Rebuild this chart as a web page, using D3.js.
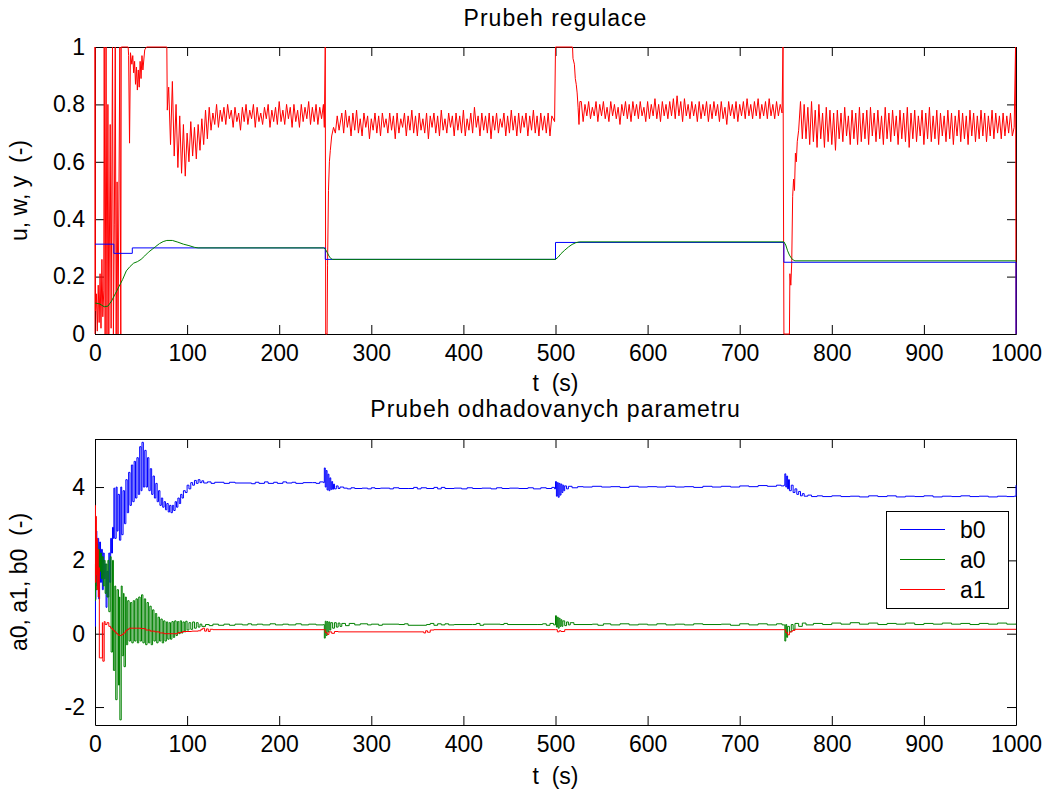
<!DOCTYPE html>
<html>
<head>
<meta charset="utf-8">
<script src="https://cdn.jsdelivr.net/npm/d3@7"></script>
<style>
body { margin: 0; background: #fff; }
text { font-family: "Liberation Sans", Arial, Helvetica, sans-serif; }
</style>
</head>
<body>
<div class="chart"></div>
<script>
// ---- data ----
var xTicks = [0, 100, 200, 300, 400, 500, 600, 700, 800, 900, 1000];
var topYTicks = [0, 0.2, 0.4, 0.6, 0.8, 1];
var botYTicks = [-2, 0, 2, 4];

// u (control signal, saturated to 0..1): [t, value] pairs for transients
var uStart = [
  [0, 0], [0, 1], [0.5, 0.08], [1.5, 0.14], [2.5, 0.01], [3.5, 0.17], [4.5, 0.04], [5.5, 0.21],
  [6.5, 0.02], [7.5, 0.26], [8.5, 0.06], [9.5, 0.15], [10, 1], [11, 0], [12, 1], [13, 0],
  [14, 0.8], [15, 0], [16.5, 0.73], [17.5, 0.02], [19, 1], [20, 0], [21, 0.38], [22, 1],
  [23, 0], [24, 0.53], [25, 0], [27, 1], [28, 0], [28.5, 1],
  [36, 1], [36.5, 0.97], [37.5, 0.665], [38.5, 0.98], [40, 0.94], [41, 0.97], [42, 0.91],
  [43, 0.95], [44, 0.87], [45, 0.93], [46, 0.85], [47, 0.92], [48, 0.86], [49, 0.95],
  [50, 0.89], [51, 0.97], [52, 0.92], [54, 0.99], [56, 1],
  [78, 1], [78.5, 0.78], [79.5, 0.84]
];
// steady stretches of u, one value every 2 s
var uStep = 2;
var uRun1Start = 80;
var uRun1 = [
  0.86, 0.66, 0.88, 0.62, 0.80, 0.58, 0.76, 0.56, 0.73, 0.55,
  0.70, 0.60, 0.74, 0.62, 0.72, 0.61, 0.73, 0.64, 0.75, 0.66,
  0.78, 0.68, 0.79, 0.71, 0.77, 0.73, 0.80, 0.72, 0.78, 0.74,
  0.79, 0.73, 0.80, 0.75, 0.78, 0.72, 0.79, 0.74, 0.77, 0.71,
  0.79, 0.74, 0.80, 0.73, 0.78, 0.75, 0.80, 0.72, 0.79, 0.74,
  0.77, 0.73, 0.79, 0.75, 0.80, 0.72, 0.78, 0.74, 0.79, 0.73,
  0.81, 0.74, 0.78, 0.73, 0.80, 0.75, 0.79, 0.72, 0.80, 0.74,
  0.78, 0.72, 0.80, 0.74, 0.79, 0.75, 0.81, 0.73, 0.79, 0.74,
  0.80, 0.73, 0.79, 0.75, 0.80
];
var uJump1 = [
  [249, 0.72], [250, 1], [250.5, 0], [252, 0], [252.5, 0.24], [253.5, 0.5], [254.5, 0.6],
  [255.5, 0.64], [257, 0.69], [259, 0.72], [261, 0.70], [263, 0.76], [265, 0.71]
];
var uRun2Start = 268;
var uRun2 = [
  0.77, 0.70, 0.78, 0.72, 0.76, 0.69, 0.77, 0.71, 0.78, 0.70,
  0.75, 0.69, 0.77, 0.72, 0.76, 0.68, 0.75, 0.71, 0.77, 0.70,
  0.76, 0.69, 0.77, 0.72, 0.75, 0.70, 0.77, 0.71, 0.76, 0.68,
  0.77, 0.70, 0.75, 0.72, 0.77, 0.69, 0.76, 0.71, 0.78, 0.70,
  0.76, 0.69, 0.77, 0.71, 0.75, 0.70, 0.77, 0.68, 0.76, 0.72,
  0.77, 0.70, 0.76, 0.69, 0.78, 0.71, 0.75, 0.70, 0.77, 0.72,
  0.76, 0.69, 0.77, 0.71, 0.76, 0.70, 0.78, 0.69, 0.75, 0.71,
  0.77, 0.70, 0.79, 0.72, 0.76, 0.69, 0.77, 0.71, 0.76, 0.70,
  0.77, 0.68, 0.76, 0.71, 0.77, 0.70, 0.75, 0.72, 0.77, 0.69,
  0.76, 0.70, 0.78, 0.71, 0.76, 0.69, 0.77, 0.70, 0.76, 0.72,
  0.77, 0.69, 0.76, 0.71, 0.78, 0.70, 0.76, 0.69, 0.77, 0.71,
  0.76, 0.70, 0.77, 0.69, 0.76
];
var uJump2 = [
  [499, 0.74], [500, 1], [518.5, 1], [519, 0.96], [520.5, 0.94], [521.5, 0.89], [522.5, 0.87],
  [523.5, 0.84], [524.5, 0.79], [525.5, 0.73], [526.5, 0.81]
];
var uRun3Start = 528;
var uRun3 = [
  0.81, 0.74, 0.80, 0.76, 0.81, 0.75, 0.79, 0.76, 0.81, 0.74,
  0.80, 0.76, 0.81, 0.75, 0.79, 0.74, 0.81, 0.76, 0.80, 0.75,
  0.79, 0.73, 0.80, 0.76, 0.81, 0.75, 0.80, 0.74, 0.81, 0.76,
  0.80, 0.75, 0.81, 0.76, 0.79, 0.74, 0.81, 0.75, 0.80, 0.76,
  0.82, 0.75, 0.80, 0.74, 0.81, 0.76, 0.80, 0.75, 0.81, 0.76,
  0.82, 0.75, 0.83, 0.76, 0.81, 0.74, 0.82, 0.76, 0.80, 0.75,
  0.81, 0.76, 0.80, 0.74, 0.81, 0.75, 0.80, 0.76, 0.81, 0.74,
  0.80, 0.75, 0.81, 0.76, 0.80, 0.74, 0.81, 0.75, 0.79, 0.73,
  0.81, 0.76, 0.80, 0.75, 0.81, 0.74, 0.80, 0.76, 0.81, 0.75,
  0.82, 0.76, 0.80, 0.75, 0.81, 0.76, 0.82, 0.75, 0.80, 0.76,
  0.81, 0.75, 0.82, 0.76, 0.80, 0.75, 0.81, 0.76, 0.80
];
var uJump3 = [
  [746, 0.77], [747, 1], [748, 0], [754, 0], [754.5, 0.21], [755.5, 0.17], [756.5, 0.25],
  [757.5, 0.48], [758.5, 0.54], [759.5, 0.5], [760.5, 0.63], [761.5, 0.6], [762.5, 0.67],
  [764, 0.71], [766, 0.81], [768, 0.68]
];
var uRun4Start = 770;
var uRun4 = [
  0.80, 0.68, 0.79, 0.66, 0.81, 0.67, 0.78, 0.65, 0.80, 0.68,
  0.77, 0.65, 0.79, 0.67, 0.78, 0.66, 0.77, 0.64, 0.78, 0.68,
  0.77, 0.67, 0.79, 0.69, 0.76, 0.66, 0.78, 0.68, 0.77, 0.66,
  0.79, 0.67, 0.77, 0.68, 0.78, 0.66, 0.79, 0.69, 0.77, 0.67,
  0.78, 0.68, 0.76, 0.66, 0.79, 0.68, 0.77, 0.67, 0.78, 0.69,
  0.76, 0.66, 0.78, 0.68, 0.77, 0.67, 0.79, 0.65, 0.77, 0.68,
  0.78, 0.67, 0.76, 0.69, 0.78, 0.66, 0.77, 0.68, 0.79, 0.67,
  0.76, 0.68, 0.78, 0.66, 0.77, 0.69, 0.76, 0.67, 0.78, 0.68,
  0.77, 0.66, 0.76, 0.69, 0.78, 0.67, 0.77, 0.68, 0.76, 0.66,
  0.78, 0.69, 0.77, 0.67, 0.76, 0.68, 0.78, 0.69, 0.77, 0.67,
  0.76, 0.69, 0.78, 0.68, 0.77, 0.70, 0.76, 0.68, 0.77, 0.69,
  0.76, 0.70, 0.77, 0.69, 0.72
];
var uEnd = [[999.5, 1], [1000, 0]];

// w (setpoint) and y (output)
var wData = [[0, 0.313], [20.5, 0.281], [40.5, 0.30], [250, 0.26], [500, 0.319], [748, 0.25], [1000, 0]];
var yData = [
  [0, 0.108], [5, 0.105], [10, 0.095], [14, 0.097], [18, 0.115], [22, 0.14], [26, 0.165],
  [30, 0.19], [34, 0.22], [38, 0.235], [42, 0.247], [46, 0.252], [50, 0.26], [54, 0.272],
  [58, 0.285], [62, 0.295], [66, 0.305], [70, 0.315], [74, 0.322], [78, 0.326], [84, 0.326],
  [90, 0.32], [96, 0.313], [102, 0.308], [108, 0.302], [112, 0.300], [248, 0.300],
  [250, 0.296], [252, 0.285], [254, 0.272], [256, 0.263], [258, 0.26], [500, 0.26],
  [503, 0.268], [506, 0.28], [510, 0.292], [514, 0.303], [518, 0.312], [522, 0.318],
  [526, 0.321], [748, 0.321], [750, 0.31], [752, 0.29], [754, 0.275], [756, 0.265],
  [758, 0.258], [760, 0.255], [1000, 0.255]
];

// estimated parameters
var b0Data = [
  [0, 0.2], [0.5, 0.93], [1, 2.8], [2, 1.3], [3, 2.6], [4, 0.95], [5, 2.5], [6, 1.4], [7, 2.3],
  [8, 1.2], [9, 2.2], [10, 1.5], [11, 1.9], [12, 0.72], [13, 1.7], [14, 1.0], [15, 2.2],
  [16, 1.4], [17, 2.6], [18, 2.2], [19, 2.9], [20, 2.6], [20.5, 3.97], [21.5, 2.6], [23, 4.0],
  [24, 2.8], [25, 3.8], [26.5, 2.55], [28, 4.0], [29, 2.7], [30.5, 3.9], [32, 3.0], [33.5, 4.2],
  [35, 3.3], [36.5, 4.4], [38, 3.5], [39.5, 4.6], [41, 3.6], [42.5, 4.7], [44, 3.7], [45.5, 4.8],
  [47, 3.8], [48.5, 5.1], [50, 3.9], [51, 5.22], [52.5, 4.0], [54, 5.0], [55.5, 4.0], [57, 4.8],
  [58.5, 3.9], [60, 4.5], [61.5, 3.8], [63, 4.3], [64.5, 3.7], [66, 4.1], [67.5, 3.6], [69, 3.9],
  [70.5, 3.5], [72, 3.7], [73.5, 3.45], [75, 3.6], [76.5, 3.38], [78, 3.55], [79.5, 3.32],
  [81, 3.5], [82.5, 3.3], [84, 3.5], [85.5, 3.36], [87, 3.6], [88.5, 3.45], [90, 3.7],
  [91.5, 3.55], [93, 3.8], [94.5, 3.7], [96, 3.9], [98, 3.85], [100, 4.05], [102, 3.95],
  [104, 4.12], [106, 4.05], [108, 4.18], [110, 4.1], [112, 4.2], [114, 4.12], [116, 4.17],
  [118, 4.11], [122, 4.14], [126, 4.1], [130, 4.13], [140, 4.1], [146, 4.13], [152, 4.11],
  [170, 4.09], [174, 4.13], [178, 4.1], [184, 4.14], [188, 4.1], [194, 4.13], [198, 4.1],
  [204, 4.14], [208, 4.11], [214, 4.13], [218, 4.10], [226, 4.12], [236, 4.12], [240, 4.10],
  [244, 4.14], [248, 4.12],
  [249, 4.52], [250, 4.0], [251, 4.45], [252, 3.92], [253, 4.35], [254, 3.9], [255, 4.25],
  [256, 3.93], [257, 4.15], [258, 3.94], [259, 4.08], [260, 3.95], [262, 4.03], [264, 3.96],
  [266, 4.0], [270, 3.97], [274, 3.95], [278, 3.98], [282, 3.96], [290, 3.97], [296, 3.95],
  [300, 3.98], [304, 3.96], [310, 3.97], [320, 3.95], [324, 3.98], [330, 3.96], [340, 3.96],
  [346, 3.99], [350, 3.95], [354, 3.98], [360, 3.96], [368, 3.99], [372, 3.95], [376, 3.99],
  [380, 3.96], [390, 3.97], [398, 3.95], [404, 3.98], [410, 3.96], [420, 3.97], [430, 3.95],
  [436, 3.98], [442, 3.96], [450, 3.97], [460, 3.96], [470, 3.98], [476, 3.95], [484, 3.98],
  [490, 3.96], [496, 3.99],
  [499, 3.95], [500, 4.15], [501, 3.75], [502, 4.12], [503, 3.72], [504, 4.1], [505, 3.78],
  [506, 4.08], [507, 3.85], [508, 4.05], [509, 3.9], [510, 4.03], [512, 3.95], [514, 4.02],
  [518, 3.98], [524, 4.01], [530, 4.0], [540, 4.02], [550, 4.0], [560, 4.01], [570, 3.99],
  [580, 4.02], [590, 4.0], [600, 4.01], [610, 4.0], [620, 4.02], [630, 4.0], [640, 4.01],
  [650, 3.99], [660, 4.02], [670, 4.0], [680, 4.02], [690, 4.0], [700, 4.03], [710, 4.01],
  [720, 4.04], [730, 4.02], [740, 4.05], [745, 4.03],
  [748, 4.05], [749, 4.36], [750, 4.0], [751, 4.3], [752, 3.95], [753, 4.2], [754, 3.9],
  [756, 4.05], [758, 3.85], [760, 3.95], [762, 3.8], [764, 3.88], [766, 3.76], [768, 3.82],
  [770, 3.75], [774, 3.78], [778, 3.74], [784, 3.76], [790, 3.74], [800, 3.76], [810, 3.74],
  [820, 3.75], [830, 3.73], [840, 3.76], [850, 3.74], [860, 3.76], [870, 3.73], [880, 3.75],
  [890, 3.74], [900, 3.76], [910, 3.73], [920, 3.75], [930, 3.74], [940, 3.76], [950, 3.74],
  [960, 3.75], [970, 3.73], [980, 3.75], [990, 3.74], [998, 3.75], [1000, 4.05]
];
var a0Data = [
  [0, 0.9], [0.5, 1.9], [1, 1.2], [2, 2.45], [3, 1.6], [4, 2.3], [5, 1.7], [6, 2.2], [7, 1.5],
  [8, 2.1], [9, 1.3], [10, 2.0], [11, 1.1], [12, 1.9], [13, 1.0], [14, 2.0], [15, 0.6],
  [16.5, 2.1], [17.5, -0.5], [19, 2.0], [20, -1.0], [21.5, 1.3], [22.5, -1.8], [24, 1.2],
  [25.5, -1.4], [26.5, 1.0], [27, -2.35], [28.5, 1.3], [29.5, -0.6], [31, 1.1], [31.5, -0.9],
  [33, 1.0], [34, -0.3], [35.5, 0.9], [37, -0.2], [38.5, 0.85], [40, -0.25], [41.5, 0.9],
  [43, -0.2], [44.5, 0.95], [46, -0.25], [47.5, 1.0], [49, -0.2], [50.5, 1.06], [52, -0.25],
  [53.5, 0.95], [55, -0.3], [56.5, 0.85], [58, -0.25], [59.5, 0.75], [61, -0.3], [62.5, 0.65],
  [64, -0.2], [65.5, 0.55], [67, -0.25], [68.5, 0.45], [70, -0.2], [71.5, 0.4], [73, -0.25],
  [74.5, 0.35], [76, -0.2], [77.5, 0.32], [79, -0.15], [80.5, 0.3], [82, -0.15], [83.5, 0.33],
  [85, -0.1], [86.5, 0.35], [88, -0.05], [89.5, 0.33], [91, 0.0], [92.5, 0.35], [94, 0.02],
  [95.5, 0.32], [97, 0.05], [98.5, 0.34], [100, 0.1], [102, 0.3], [104, 0.12], [106, 0.32],
  [108, 0.15], [110, 0.3], [112, 0.18], [114, 0.26], [116, 0.2], [120, 0.25], [124, 0.22],
  [128, 0.26], [134, 0.23], [140, 0.26], [146, 0.23], [152, 0.26], [160, 0.24], [166, 0.27],
  [170, 0.24], [176, 0.26], [182, 0.24], [190, 0.27], [196, 0.24], [204, 0.26], [210, 0.24],
  [218, 0.27], [224, 0.24], [232, 0.26], [240, 0.24], [248, 0.25],
  [249, -0.12], [250, 0.34], [251, -0.05], [252, 0.33], [253, 0.05], [254, 0.32], [255, 0.1],
  [256, 0.3], [258, 0.15], [260, 0.3], [262, 0.18], [264, 0.29], [266, 0.2], [268, 0.28],
  [272, 0.22], [276, 0.28], [282, 0.24], [288, 0.27], [296, 0.24], [300, 0.26], [308, 0.23],
  [312, 0.26], [330, 0.25], [336, 0.27], [340, 0.23], [360, 0.25], [364, 0.28], [368, 0.23],
  [372, 0.27], [376, 0.24], [380, 0.27], [384, 0.24], [390, 0.25], [410, 0.25], [414, 0.28],
  [418, 0.23], [422, 0.26], [440, 0.25], [444, 0.28], [448, 0.25], [480, 0.25], [486, 0.27],
  [490, 0.23], [494, 0.28], [498, 0.24],
  [500, 0.49], [501, 0.18], [502, 0.45], [503, 0.15], [504, 0.42], [505, 0.2], [506, 0.38],
  [507, 0.2], [508, 0.35], [510, 0.22], [512, 0.32], [514, 0.24], [516, 0.3], [520, 0.25],
  [540, 0.26], [546, 0.23], [552, 0.27], [560, 0.24], [570, 0.27], [580, 0.24], [590, 0.26],
  [600, 0.24], [610, 0.27], [620, 0.24], [630, 0.26], [640, 0.24], [650, 0.27], [660, 0.25],
  [680, 0.26], [690, 0.23], [700, 0.27], [710, 0.24], [720, 0.27], [730, 0.24], [740, 0.27],
  [746, 0.24],
  [749, -0.2], [750, 0.25], [751, -0.1], [752, 0.2], [754, 0.05], [756, 0.25], [758, 0.12],
  [760, 0.28], [764, 0.2], [768, 0.29], [772, 0.24], [780, 0.28], [790, 0.25], [800, 0.29],
  [810, 0.26], [820, 0.3], [830, 0.26], [840, 0.29], [850, 0.25], [860, 0.28], [870, 0.26],
  [880, 0.29], [890, 0.25], [900, 0.28], [910, 0.26], [920, 0.29], [930, 0.26], [940, 0.28],
  [950, 0.25], [960, 0.28], [970, 0.26], [980, 0.29], [990, 0.26], [1000, 0.27]
];
var a1Data = [
  [0, 3.5], [0.5, 1.4], [1, 3.2], [1.5, 1.6], [2, 2.6], [2.5, 1.2], [3, 2.3], [3.5, 1.0],
  [4, 1.8], [4.7, -0.66], [8, 0.3], [8.5, -0.75], [10, 0.33], [11, 0.25], [13, 0.3], [15, 0.2],
  [17, 0.15], [19, 0.1], [21, 0.05], [23, 0.0], [25, -0.04], [27, -0.05], [29, -0.02],
  [31, 0.02], [33, 0.08], [35, 0.12], [37, 0.15], [45, 0.15], [50, 0.14], [55, 0.1], [60, 0.07],
  [65, 0.05], [70, 0.02], [75, 0.0], [85, 0.0], [90, 0.03], [95, 0.06], [105, 0.07], [112, 0.08],
  [115, 0.12], [117, 0.15], [119, 0.07], [121, 0.13], [123, 0.06], [125, 0.12], [128, 0.11],
  [249, 0.11], [250, 0.03], [252, -0.02], [254, 0.05], [257, 0.01], [260, 0.06], [264, 0.05],
  [355, 0.05], [357, 0.02], [359, 0.08], [361, 0.04], [364, 0.1], [368, 0.11], [500, 0.11],
  [502, 0.05], [504, 0.08], [506, 0.06], [510, 0.11], [749, 0.11], [750, 0.03], [752, -0.03],
  [754, 0.05], [757, 0.09], [760, 0.12], [1000, 0.12]
];
var legendNames = ["b0", "a0", "a1"];
var legendColors = ["#0000ff", "#008000", "#ff0000"];

// ---- layout ----
var svgWidth = 1051;
var svgHeight = 794;
var left = 95, right = 1016;
var top1 = 47, bottom1 = 334;
var top2 = 439, bottom2 = 725;
var fontSize = 23;

var svg = d3.select(".chart")
  .append("svg")
  .attr("width", svgWidth)
  .attr("height", svgHeight)
  .style("background", "#fff");

var xScale = d3.scaleLinear().domain([0, 1000]).range([left, right]);
var yScale1 = d3.scaleLinear().domain([0, 1]).range([bottom1, top1]);
var yScale2 = d3.scaleLinear().domain([-2.49, 5.31]).range([bottom2, top2]);

function runPairs(start, values) {
  return values.map(function(v, i) { return [start + i * uStep, v]; });
}
var uData = [].concat(uStart, runPairs(uRun1Start, uRun1), uJump1,
  runPairs(uRun2Start, uRun2), uJump2, runPairs(uRun3Start, uRun3), uJump3,
  runPairs(uRun4Start, uRun4), uEnd);

// clip areas
var defs = svg.append("defs");
defs.append("clipPath").attr("id", "clip1").append("rect")
  .attr("x", left - 1).attr("y", top1 - 1).attr("width", right - left + 2).attr("height", bottom1 - top1 + 2);
defs.append("clipPath").attr("id", "clip2").append("rect")
  .attr("x", left - 1).attr("y", top2 - 1).attr("width", right - left + 2).attr("height", bottom2 - top2 + 2);

// plain hyphen for negative numbers, like the original
var numFormat = function(d) { return d3.format("~g")(d).replace("\u2212", "-"); };

function styleAxis(g) {
  g.selectAll("text")
    .attr("font-size", fontSize)
    .attr("font-family", "'Liberation Sans', Arial, sans-serif")
    .attr("fill", "#000");
  g.selectAll("line, path").attr("stroke", "#000");
}

function drawAxes(yScale, yTicks, top, bottom) {
  var g = svg.append("g");
  g.append("g")
    .attr("transform", "translate(0," + bottom + ")")
    .call(d3.axisBottom(xScale).tickValues(xTicks).tickSize(-9).tickSizeOuter(0).tickPadding(11)
      .tickFormat(numFormat))
    .call(styleAxis);
  g.append("g")
    .attr("transform", "translate(0," + top + ")")
    .call(d3.axisTop(xScale).tickValues(xTicks).tickSize(-9).tickSizeOuter(0).tickFormat(""))
    .call(styleAxis);
  g.append("g")
    .attr("transform", "translate(" + left + ",0)")
    .call(d3.axisLeft(yScale).tickValues(yTicks).tickSize(-9).tickSizeOuter(0).tickPadding(10)
      .tickFormat(numFormat))
    .call(styleAxis);
  g.append("g")
    .attr("transform", "translate(" + right + ",0)")
    .call(d3.axisRight(yScale).tickValues(yTicks).tickSize(-9).tickSizeOuter(0).tickFormat(""))
    .call(styleAxis);
  return g;
}

drawAxes(yScale1, topYTicks, top1, bottom1);
drawAxes(yScale2, botYTicks, top2, bottom2);

function drawLine(data, yScale, clip, color, curve) {
  var line = d3.line()
    .x(function(d) { return xScale(d[0]); })
    .y(function(d) { return yScale(d[1]); })
    .curve(curve);
  svg.append("path")
    .datum(data)
    .attr("clip-path", "url(#" + clip + ")")
    .attr("fill", "none")
    .attr("stroke", color)
    .attr("stroke-width", 1)
    .attr("d", line);
}

// top: u, w, y
drawLine(uData, yScale1, "clip1", "#ff0000", d3.curveLinear);
drawLine(wData, yScale1, "clip1", "#0000ff", d3.curveStepAfter);
drawLine(yData, yScale1, "clip1", "#008000", d3.curveLinear);

// bottom: b0, a0, a1
drawLine(b0Data, yScale2, "clip2", "#0000ff", d3.curveStepAfter);
drawLine(a0Data, yScale2, "clip2", "#008000", d3.curveStepAfter);
drawLine(a1Data, yScale2, "clip2", "#ff0000", d3.curveStepAfter);

// titles and labels
function label(x, y, txt, rotate, spacing) {
  var t = svg.append("text")
    .attr("x", x).attr("y", y)
    .attr("text-anchor", "middle")
    .attr("font-size", fontSize)
    .attr("fill", "#000")
    .style("white-space", "pre")
    .style("letter-spacing", spacing + "px")
    .text(txt);
  if (rotate) t.attr("transform", "rotate(-90," + x + "," + y + ")");
  return t;
}
var midX = (left + right) / 2;
label(midX, 26, "Prubeh regulace", false, 1);
label(midX, 391, "t  (s)", false, 0);
label(27, (top1 + bottom1) / 2, "u, w, y  (-)", true, 0);
label(midX, 417, "Prubeh odhadovanych parametru", false, 1);
label(midX, 784, "t  (s)", false, 0);
label(27, (top2 + bottom2) / 2, "a0, a1, b0  (-)", true, 0);

// legend
var legend = svg.append("g");
legend.append("rect")
  .attr("x", 886.5).attr("y", 511.5).attr("width", 122).attr("height", 97)
  .attr("fill", "#fff").attr("stroke", "#000").attr("stroke-width", 1);
var legendY = d3.scalePoint().domain(legendNames).range([529.5, 589.5]);
legendNames.forEach(function(name, i) {
  legend.append("line")
    .attr("x1", 900).attr("x2", 945)
    .attr("y1", legendY(name)).attr("y2", legendY(name))
    .attr("stroke", legendColors[i]).attr("stroke-width", 1);
  legend.append("text")
    .attr("x", 960).attr("y", legendY(name) + 8)
    .attr("font-size", fontSize)
    .attr("fill", "#000")
    .text(name);
});
</script>
</body>
</html>
